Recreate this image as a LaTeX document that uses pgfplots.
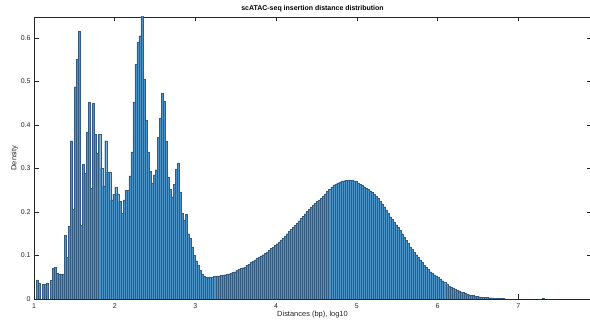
\documentclass[border=0pt]{standalone}
\usepackage{fontspec}
\setmainfont{Liberation Sans}
\usepackage{pgfplots}
\usepackage{pgfplotstable}
\pgfplotsset{compat=1.18}
\definecolor{histblue}{rgb}{0.30,0.58,0.78}
\definecolor{histedge}{rgb}{0.20,0.36,0.50}
\definecolor{axgray}{rgb}{0.15,0.15,0.15}
\pgfplotstableread{
x y
1.0375 0.044
1.0625 0.037
1.1125 0.034
1.1375 0.035
1.1625 0.037
1.2125 0.043
1.2375 0.070
1.2625 0.073
1.2875 0.060
1.3125 0.057
1.3375 0.058
1.3625 0.058
1.3875 0.147
1.4125 0.096
1.4375 0.168
1.4625 0.364
1.4875 0.207
1.5125 0.488
1.5375 0.552
1.5625 0.615
1.5875 0.170
1.6125 0.310
1.6375 0.290
1.6625 0.384
1.6875 0.453
1.7125 0.255
1.7375 0.450
1.7625 0.378
1.7875 0.335
1.8125 0.378
1.8375 0.300
1.8625 0.260
1.8875 0.364
1.9125 0.292
1.9375 0.292
1.9625 0.228
1.9875 0.241
2.0125 0.257
2.0375 0.242
2.0625 0.225
2.0875 0.197
2.1125 0.228
2.1375 0.250
2.1625 0.250
2.1875 0.283
2.2125 0.338
2.2375 0.453
2.2625 0.539
2.2875 0.591
2.3125 0.605
2.3375 0.700
2.3625 0.506
2.3875 0.410
2.4125 0.338
2.4375 0.294
2.4625 0.267
2.4875 0.285
2.5125 0.297
2.5375 0.372
2.5625 0.416
2.5875 0.473
2.6125 0.455
2.6375 0.363
2.6625 0.280
2.6875 0.252
2.7125 0.235
2.7375 0.264
2.7625 0.298
2.7875 0.313
2.8125 0.246
2.8375 0.197
2.8625 0.182
2.8875 0.194
2.9125 0.150
2.9375 0.140
2.9625 0.120
2.9875 0.100
3.0125 0.088
3.0375 0.077
3.0625 0.066
3.0875 0.058
3.1125 0.053
3.1375 0.051
3.1625 0.050
3.1875 0.050
3.2125 0.051
3.2375 0.052
3.2625 0.053
3.2875 0.053
3.3125 0.054
3.3375 0.055
3.3625 0.056
3.3875 0.057
3.4125 0.058
3.4375 0.059
3.4625 0.061
3.4875 0.063
3.5125 0.066
3.5375 0.068
3.5625 0.070
3.5875 0.072
3.6125 0.074
3.6375 0.077
3.6625 0.080
3.6875 0.084
3.7125 0.087
3.7375 0.090
3.7625 0.093
3.7875 0.096
3.8125 0.099
3.8375 0.102
3.8625 0.105
3.8875 0.108
3.9125 0.112
3.9375 0.116
3.9625 0.119
3.9875 0.123
4.0125 0.127
4.0375 0.131
4.0625 0.136
4.0875 0.140
4.1125 0.145
4.1375 0.150
4.1625 0.155
4.1875 0.160
4.2125 0.166
4.2375 0.170
4.2625 0.175
4.2875 0.180
4.3125 0.185
4.3375 0.190
4.3625 0.196
4.3875 0.201
4.4125 0.206
4.4375 0.211
4.4625 0.216
4.4875 0.220
4.5125 0.224
4.5375 0.228
4.5625 0.232
4.5875 0.237
4.6125 0.242
4.6375 0.247
4.6625 0.252
4.6875 0.257
4.7125 0.261
4.7375 0.264
4.7625 0.266
4.7875 0.268
4.8125 0.270
4.8375 0.272
4.8625 0.273
4.8875 0.274
4.9125 0.274
4.9375 0.273
4.9625 0.272
4.9875 0.270
5.0125 0.267
5.0375 0.264
5.0625 0.261
5.0875 0.258
5.1125 0.255
5.1375 0.252
5.1625 0.249
5.1875 0.245
5.2125 0.240
5.2375 0.236
5.2625 0.231
5.2875 0.225
5.3125 0.219
5.3375 0.212
5.3625 0.205
5.3875 0.197
5.4125 0.189
5.4375 0.183
5.4625 0.177
5.4875 0.171
5.5125 0.165
5.5375 0.158
5.5625 0.150
5.5875 0.143
5.6125 0.135
5.6375 0.128
5.6625 0.120
5.6875 0.114
5.7125 0.108
5.7375 0.102
5.7625 0.096
5.7875 0.090
5.8125 0.084
5.8375 0.078
5.8625 0.073
5.8875 0.068
5.9125 0.063
5.9375 0.060
5.9625 0.056
5.9875 0.053
6.0125 0.050
6.0375 0.046
6.0625 0.042
6.0875 0.038
6.1125 0.034
6.1375 0.030
6.1625 0.027
6.1875 0.025
6.2125 0.022
6.2375 0.020
6.2625 0.019
6.2875 0.017
6.3125 0.015
6.3375 0.013
6.3625 0.011
6.3875 0.010
6.4125 0.0085
6.4375 0.008
6.4625 0.007
6.4875 0.006
6.5125 0.0055
6.5375 0.005
6.5625 0.0045
6.5875 0.004
6.6125 0.0035
6.6375 0.0032
6.6625 0.003
6.6875 0.0025
6.7125 0.002
6.7375 0.0015
6.7625 0.0013
6.7875 0.0012
6.8125 0.001
6.8375 0.0008
7.3125 0.001
}\histdata
\begin{document}
\begin{tikzpicture}
\begin{axis}[
  scale only axis,
  width=557bp, height=282bp,
  xmin=1, xmax=7.902, ymin=0, ymax=0.648,
  xtick={1,2,3,4,5,6,7},
  ytick={0,0.1,0.2,0.3,0.4,0.5,0.6},
  yticklabels={0,0.1,0.2,0.3,0.4,0.5,0.6},
  /pgf/number format/assume math mode=true,
  tick align=inside,
  major tick length=4.5bp,
  axis line style={draw=axgray, line width=0.45pt},
  every tick/.style={draw=axgray, line width=0.45pt},
  tick label style={font=\fontsize{7}{8}\selectfont, text=axgray},
  xticklabel style={yshift=-1bp},
  label style={font=\fontsize{7.5}{9}\selectfont, text=axgray},
  xlabel={Distances (bp), log10},
  ylabel={Density},
  xlabel style={yshift=4bp},
  ylabel style={yshift=-4bp},
  title={\bfseries scATAC-seq insertion distance distribution},
  title style={font=\fontsize{7}{8}\selectfont, yshift=-4.5bp},
]
\addplot[ybar, bar width=0.025, bar shift=0pt, fill=histblue, draw=histedge, line width=0.15pt] table[x=x, y=y] {\histdata};
\end{axis}
\pgfresetboundingbox
\path (current axis.south west) ++(-34bp,-28bp) rectangle ++(590bp,327bp);
\end{tikzpicture}
\end{document}
